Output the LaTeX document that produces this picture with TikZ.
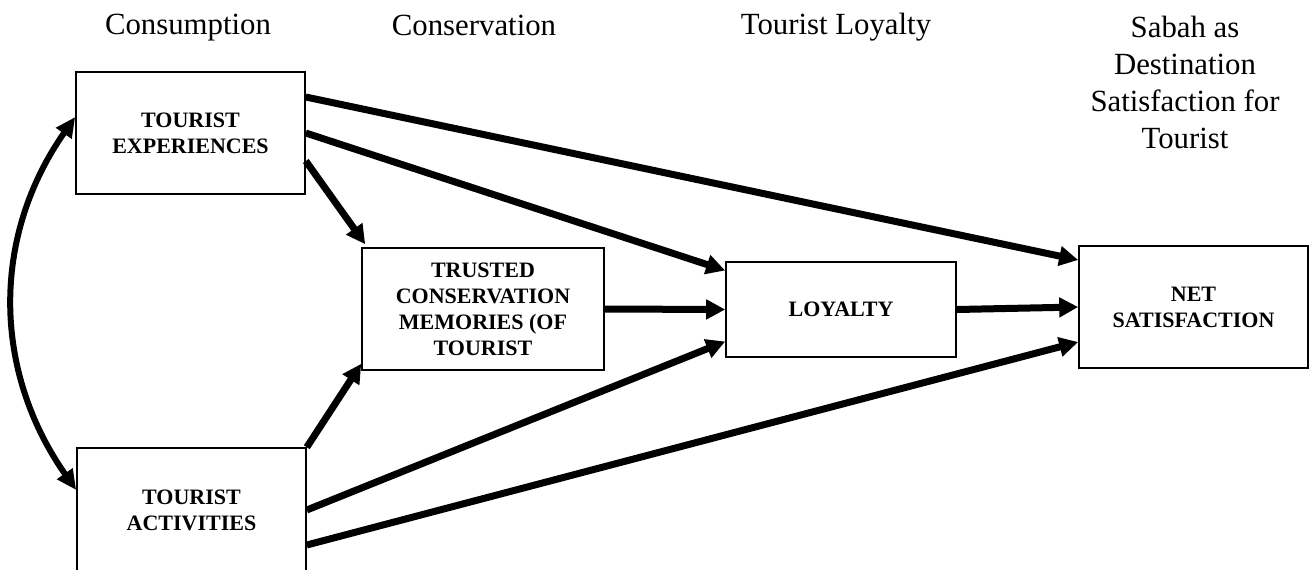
\documentclass[tikz,border=0pt]{standalone}
\usepackage{fontspec}
\setmainfont{Liberation Serif}
\usetikzlibrary{arrows.meta}
\tikzset{
	box/.style={draw, line width=0.8pt, inner sep=0pt, align=center, font=\fontsize{11}{13}\selectfont\bfseries},
	head/.style={align=center, font=\fontsize{15.4}{18.5}\selectfont},
	effect/.style={line width=3.5pt, -{Triangle[length=9.5pt,width=9.5pt]}},
	corr/.style={line width=3pt, {Triangle[length=10pt,width=9pt]}-{Triangle[length=10pt,width=9pt]}}
}

\begin{document}
\begin{tikzpicture}[x=0.5pt, y=-0.5pt]
			%%%%% START %%%%%
			\useasboundingbox (0, 0) rectangle (1311, 569);
			
			\node[head, anchor=base] (hcons) at (188, 34) {Consumption};
			\node[head, anchor=base] (hconsv) at (474, 35) {Conservation};
			\node[head, anchor=base] (hloy) at (836, 34) {Tourist Loyalty};
			\node[head] (hsabah) at (1185, 82) {Sabah as\\Destination\\Satisfaction for\\Tourist};
			
			\node[box, minimum width=114.5pt, minimum height=61pt] (te) at (190.5, 133) {TOURIST\\EXPERIENCES};
			\node[box, minimum width=114.5pt, minimum height=62pt] (ta) at (191.5, 510) {TOURIST\\ACTIVITIES};
			\node[box, minimum width=121pt, minimum height=61pt] (tcm) at (483, 309) {TRUSTED\\CONSERVATION\\MEMORIES (OF\\TOURIST};
			\node[box, minimum width=115pt, minimum height=47.5pt] (loy) at (841, 309.5) {LOYALTY};
			\node[box, minimum width=114.5pt, minimum height=61pt] (net) at (1193.5, 307) {NET\\SATISFACTION};
			
			\draw[effect] ([yshift=18pt]te.east) -- ([yshift=23.5pt]net.west);
			\draw[effect] (te.east) -- ([yshift=19.5pt]loy.west);
			\draw[effect] ([yshift=-14pt]te.east) -- ([xshift=2pt, yshift=1.5pt]tcm.north west);
			\draw[effect] (ta.north east) -- ([yshift=3.5pt]tcm.south west);
			\draw[effect] (ta.east) -- ([yshift=-16pt]loy.west);
			\draw[effect] ([yshift=-17.5pt]ta.east) -- ([yshift=-17.5pt]net.west);
			\draw[effect] (tcm.east) -- (loy.west);
			\draw[effect] (loy.east) -- (net.west);
			
			\draw[corr] ([yshift=8pt]te.west) to[out=235, in=125] ([yshift=10pt]ta.west);
			
			%%%%% END %%%%%
\end{tikzpicture}
\end{document}
